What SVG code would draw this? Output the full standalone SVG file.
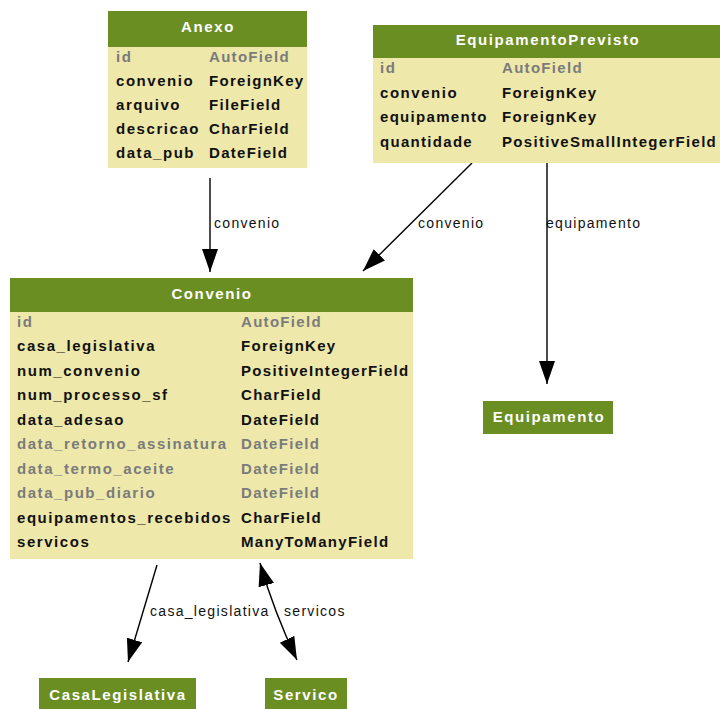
<svg xmlns="http://www.w3.org/2000/svg" width="720" height="709" viewBox="0 0 720 709">
  <style>
    .hdr { fill: #6b8e23; }
    .body { fill: #eee8aa; }
    .title { font-family: "Liberation Sans", Arial, sans-serif; font-weight: bold; font-size: 15px; fill: #ffffff; letter-spacing: 1.6px; text-anchor: middle; }
    .fld { font-family: "Liberation Sans", Arial, sans-serif; font-weight: bold; font-size: 15px; fill: #111111; letter-spacing: 1.3px; }
    .fld.nm { letter-spacing: 1.55px; }
    .fld.dim { fill: #7b7b7b; }
    .lbl { font-family: "Liberation Sans", Arial, sans-serif; font-size: 14px; fill: #111111; letter-spacing: 1.3px; }
    .edge { fill: none; stroke: #000000; stroke-width: 1.4; }
  </style>
  <defs>
    <marker id="arrow" markerUnits="userSpaceOnUse" markerWidth="24" markerHeight="17" refX="23" refY="8" orient="auto-start-reverse">
      <path d="M0,0 L23,8 L0,16 Z" fill="#000000"/>
    </marker>
  </defs>

  <!-- relations -->
  <g id="connectors">
    <path class="edge" d="M210,178 L210,272" marker-end="url(#arrow)"/>
    <text class="lbl" x="214" y="228">convenio</text>

    <path class="edge" d="M472,163 L363,271" marker-end="url(#arrow)"/>
    <text class="lbl" x="418" y="228">convenio</text>

    <path class="edge" d="M547,163 L547,384" marker-end="url(#arrow)"/>
    <text class="lbl" x="546" y="228">equipamento</text>

    <path class="edge" d="M157,565 L128,662" marker-end="url(#arrow)"/>
    <text class="lbl" x="150" y="616">casa_legislativa</text>

    <path class="edge" d="M260,563 Q274,612 297,660" marker-start="url(#arrow)" marker-end="url(#arrow)"/>
    <text class="lbl" x="284" y="616">servicos</text>
  </g>

  <!-- Anexo -->
  <g id="Anexo">
    <rect class="body" x="108" y="11" width="199" height="157"/>
    <rect class="hdr" x="108" y="11" width="199" height="36"/>
    <text class="title" x="208" y="32">Anexo</text>
    <text class="fld nm dim" x="116" y="62">id</text>
    <text class="fld dim" x="209" y="62">AutoField</text>
    <text class="fld nm" x="116" y="86">convenio</text>
    <text class="fld" x="209" y="86">ForeignKey</text>
    <text class="fld nm" x="116" y="110">arquivo</text>
    <text class="fld" x="209" y="110">FileField</text>
    <text class="fld nm" x="116" y="134">descricao</text>
    <text class="fld" x="209" y="134">CharField</text>
    <text class="fld nm" x="116" y="158">data_pub</text>
    <text class="fld" x="209" y="158">DateField</text>
  </g>

  <!-- EquipamentoPrevisto -->
  <g id="EquipamentoPrevisto">
    <rect class="body" x="373" y="25" width="349" height="138"/>
    <rect class="hdr" x="373" y="25" width="349" height="33"/>
    <text class="title" x="548" y="45">EquipamentoPrevisto</text>
    <text class="fld nm dim" x="380" y="73">id</text>
    <text class="fld dim" x="502" y="73">AutoField</text>
    <text class="fld nm" x="380" y="98">convenio</text>
    <text class="fld" x="502" y="98">ForeignKey</text>
    <text class="fld" x="380" y="122">equipamento</text>
    <text class="fld" x="502" y="122">ForeignKey</text>
    <text class="fld" x="380" y="147">quantidade</text>
    <text class="fld" x="502" y="147">PositiveSmallIntegerField</text>
  </g>

  <!-- Convenio -->
  <g id="Convenio">
    <rect class="body" x="10" y="278" width="403" height="281"/>
    <rect class="hdr" x="10" y="278" width="403" height="34"/>
    <text class="title" x="212" y="299">Convenio</text>
    <text class="fld nm dim" x="17" y="327">id</text>
    <text class="fld dim" x="241" y="327">AutoField</text>
    <text class="fld nm" x="17" y="351">casa_legislativa</text>
    <text class="fld" x="241" y="351">ForeignKey</text>
    <text class="fld nm" x="17" y="376">num_convenio</text>
    <text class="fld" x="241" y="376">PositiveIntegerField</text>
    <text class="fld nm" x="17" y="400">num_processo_sf</text>
    <text class="fld" x="241" y="400">CharField</text>
    <text class="fld nm" x="17" y="425">data_adesao</text>
    <text class="fld" x="241" y="425">DateField</text>
    <text class="fld nm dim" x="17" y="449">data_retorno_assinatura</text>
    <text class="fld dim" x="241" y="449">DateField</text>
    <text class="fld nm dim" x="17" y="474">data_termo_aceite</text>
    <text class="fld dim" x="241" y="474">DateField</text>
    <text class="fld nm dim" x="17" y="498">data_pub_diario</text>
    <text class="fld dim" x="241" y="498">DateField</text>
    <text class="fld nm" x="17" y="523">equipamentos_recebidos</text>
    <text class="fld" x="241" y="523">CharField</text>
    <text class="fld nm" x="17" y="547">servicos</text>
    <text class="fld" x="241" y="547">ManyToManyField</text>
  </g>

  <!-- Equipamento -->
  <g id="Equipamento">
    <rect class="hdr" x="483" y="401" width="130" height="33"/>
    <text class="title" x="549" y="422">Equipamento</text>
  </g>

  <!-- CasaLegislativa -->
  <g id="CasaLegislativa">
    <rect class="hdr" x="39" y="678" width="157" height="34"/>
    <text class="title" x="118" y="700">CasaLegislativa</text>
  </g>

  <!-- Servico -->
  <g id="Servico">
    <rect class="hdr" x="265" y="678" width="82" height="34"/>
    <text class="title" x="306" y="700">Servico</text>
  </g>
</svg>
